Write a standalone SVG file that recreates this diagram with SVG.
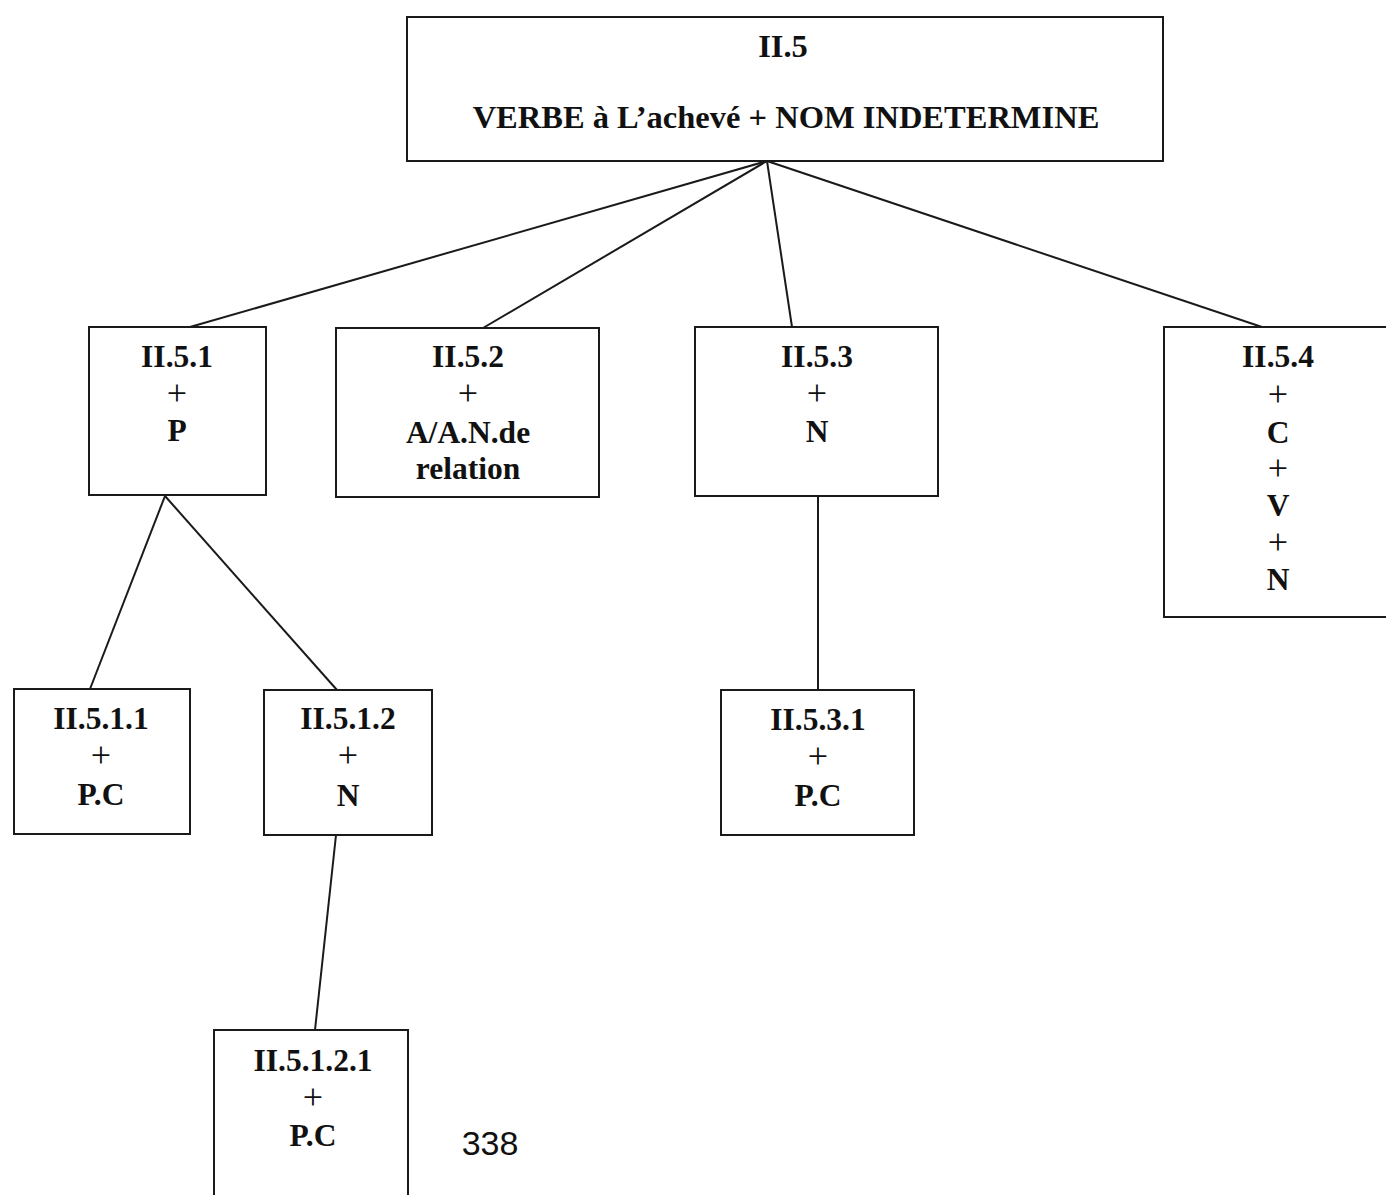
<svg xmlns="http://www.w3.org/2000/svg" width="1386" height="1195" viewBox="0 0 1386 1195">
  <style>
    .box { fill: #fff; stroke: #1a1a1a; stroke-width: 2; }
    .lbl { font-family: "Liberation Serif", "Times New Roman", serif; font-weight: bold; font-size: 31.5px; fill: #111; text-anchor: middle; }
    .head { font-size: 32.5px; }
    .plus { font-weight: normal; font-size: 36px; }
    .edge { stroke: #1a1a1a; stroke-width: 2; fill: none; }
    .page { font-family: "Liberation Sans", Arial, sans-serif; font-size: 34px; fill: #111; text-anchor: middle; }
  </style>
  <rect width="1386" height="1195" fill="#fff"/>

  <!-- connectors -->
  <g id="connectors">
    <line class="edge" x1="767" y1="161" x2="190" y2="327"/>
    <line class="edge" x1="767" y1="161" x2="483" y2="328"/>
    <line class="edge" x1="767" y1="161" x2="792" y2="327"/>
    <line class="edge" x1="767" y1="161" x2="1262" y2="327"/>
    <line class="edge" x1="165" y1="496" x2="90" y2="689"/>
    <line class="edge" x1="165" y1="496" x2="337" y2="690"/>
    <line class="edge" x1="818" y1="496" x2="818" y2="690"/>
    <line class="edge" x1="336" y1="835" x2="315" y2="1030"/>
  </g>

  <!-- root -->
  <g id="n-II5">
    <rect class="box" x="407" y="17" width="756" height="144"/>
    <text class="lbl head" x="783" y="57">II.5</text>
    <text class="lbl head" x="786" y="128">VERBE à L’achevé + NOM INDETERMINE</text>
  </g>

  <g id="n-II51">
    <rect class="box" x="89" y="327" width="177" height="168"/>
    <text class="lbl" x="177" y="367">II.5.1</text>
    <text class="lbl plus" x="177" y="405">+</text>
    <text class="lbl" x="177" y="441">P</text>
  </g>

  <g id="n-II52">
    <rect class="box" x="336" y="328" width="263" height="169"/>
    <text class="lbl" x="468" y="367">II.5.2</text>
    <text class="lbl plus" x="468" y="405">+</text>
    <text class="lbl" x="468" y="443">A/A.N.de</text>
    <text class="lbl" x="468" y="479">relation</text>
  </g>

  <g id="n-II53">
    <rect class="box" x="695" y="327" width="243" height="169"/>
    <text class="lbl" x="817" y="367">II.5.3</text>
    <text class="lbl plus" x="817" y="405">+</text>
    <text class="lbl" x="817" y="442">N</text>
  </g>

  <g id="n-II54">
    <rect class="box" x="1164" y="327" width="230" height="290"/>
    <text class="lbl" x="1278" y="367">II.5.4</text>
    <text class="lbl plus" x="1278" y="406">+</text>
    <text class="lbl" x="1278" y="443">C</text>
    <text class="lbl plus" x="1278" y="480">+</text>
    <text class="lbl" x="1278" y="516">V</text>
    <text class="lbl plus" x="1278" y="554">+</text>
    <text class="lbl" x="1278" y="590">N</text>
  </g>

  <g id="n-II511">
    <rect class="box" x="14" y="689" width="176" height="145"/>
    <text class="lbl" x="101" y="729">II.5.1.1</text>
    <text class="lbl plus" x="101" y="767">+</text>
    <text class="lbl" x="101" y="805">P.C</text>
  </g>

  <g id="n-II512">
    <rect class="box" x="264" y="690" width="168" height="145"/>
    <text class="lbl" x="348" y="729">II.5.1.2</text>
    <text class="lbl plus" x="348" y="767">+</text>
    <text class="lbl" x="348" y="806">N</text>
  </g>

  <g id="n-II531">
    <rect class="box" x="721" y="690" width="193" height="145"/>
    <text class="lbl" x="818" y="730">II.5.3.1</text>
    <text class="lbl plus" x="818" y="768">+</text>
    <text class="lbl" x="818" y="806">P.C</text>
  </g>

  <g id="n-II5121">
    <rect class="box" x="214" y="1030" width="194" height="180"/>
    <text class="lbl" x="313" y="1071">II.5.1.2.1</text>
    <text class="lbl plus" x="313" y="1109">+</text>
    <text class="lbl" x="313" y="1146">P.C</text>
  </g>

  <text class="page" x="490" y="1155">338</text>
</svg>
